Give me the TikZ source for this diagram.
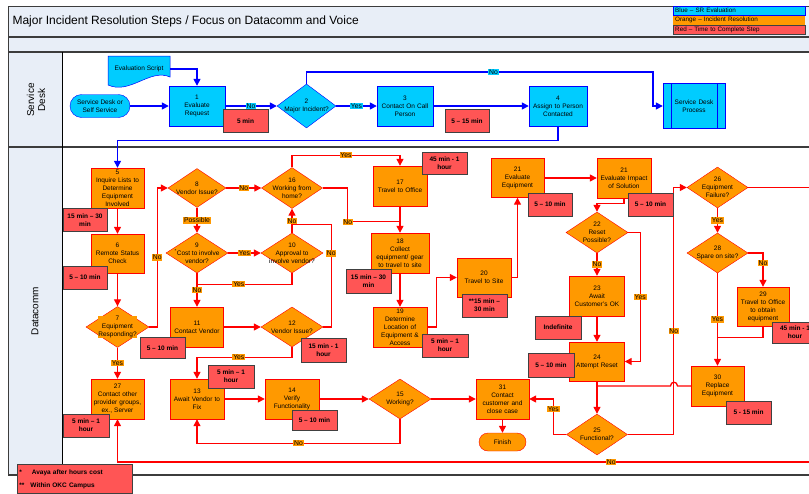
\documentclass[tikz,border=0pt]{standalone}
\usepackage{fontspec}
\setmainfont{Liberation Sans}
\usetikzlibrary{shapes.geometric,arrows.meta,positioning}

\definecolor{srblue}{RGB}{0,204,255}
\definecolor{srline}{RGB}{0,0,255}
\definecolor{irorange}{RGB}{255,153,0}
\definecolor{irline}{RGB}{255,0,0}
\definecolor{timered}{RGB}{255,85,85}
\definecolor{laneband}{RGB}{232,238,247}
\definecolor{frameline}{RGB}{60,60,60}

\tikzset{
  txt/.style={font=\fontsize{6.5}{8}\selectfont, align=center},
  srbox/.style={txt, draw=srline, fill=srblue, minimum width=56pt, minimum height=40pt, text width=52pt, inner sep=1pt},
  irbox/.style={txt, draw=irline, fill=irorange, minimum width=53pt, minimum height=40pt, text width=50pt, inner sep=1pt},
  srdecision/.style={diamond, draw=srline, fill=srblue, minimum width=59pt, minimum height=44pt, inner sep=0pt},
  irdecision/.style={diamond, draw=irline, fill=irorange, minimum width=62pt, minimum height=41pt, inner sep=0pt},
  timebox/.style={draw=black!75, line width=0.8pt, fill=timered, font=\bfseries\fontsize{6.5}{8}\selectfont, align=center, minimum width=45pt, minimum height=23pt, inner sep=0.5pt},
  srflow/.style={draw=srline, line width=1.4pt, -{Triangle[length=7pt,width=7pt]}},
  irflow/.style={draw=irline, line width=1.3pt, -{Triangle[length=7pt,width=7pt]}},
  irjoin/.style={draw=irline, line width=1.3pt},
  srtag/.style={fill=srblue, inner sep=0.8pt, font=\fontsize{6.8}{7}\selectfont},
  irtag/.style={fill=irorange, inner sep=0.8pt, font=\fontsize{6.8}{7}\selectfont},
  legrow/.style={font=\fontsize{6.3}{7}\selectfont, align=left, text width=128pt, minimum height=9pt, inner xsep=2pt, inner ysep=0.5pt}
}

\begin{document}
\begin{tikzpicture}[x=1pt,y=-1pt]
\useasboundingbox (0,0) rectangle (809,493);
% swimlanes
\fill[laneband] (8,6) rectangle (812,52);
\fill[laneband] (8,52) rectangle (62,475);
\draw[frameline, line width=0.6pt] (8,6) -- (812,6);
\draw[frameline, line width=1.2pt] (8,37) -- (812,37) (8,52) -- (812,52) (8,147) -- (812,147);
\draw[frameline, line width=1.8pt] (8,475) -- (812,475);
\draw[frameline, line width=1pt] (8,6) -- (8,475);
\draw[line width=0.6pt] (62,52) -- (62,475);
\node[anchor=west, font=\fontsize{12}{14}\selectfont] (title) at (9,21) {Major Incident Resolution Steps / Focus on Datacomm and Voice};
\node[rotate=90, align=center, font=\fontsize{10}{11}\selectfont] (lanesd) at (36,100) {Service\\Desk};
\node[rotate=90, font=\fontsize{10}{11}\selectfont] (lanedc) at (35,311) {Datacomm};

% legend
\node[legrow, anchor=north west, draw=srline, fill=srblue] (legsr) at (673,6) {Blue – SR Evaluation};
\node[legrow, fill=irorange, below=0pt of legsr] (legir) {Orange – Incident Resolution};
\node[legrow, draw=black!75, fill=timered, below=0.5pt of legir] (legtime) {Red – Time to Complete Step};

% service desk
\filldraw[draw=srline, fill=srblue, line width=0.5pt] (108,56) -- (170,56) -- (170,77) .. controls (150,68) and (130,95) .. (108,85) -- cycle;
\node[txt, minimum width=62pt] (script) at (139,69) {Evaluation Script};
\node[txt, draw=srline, fill=srblue, rounded corners=11.5pt, minimum width=60pt, minimum height=23pt, inner sep=0.5pt] (start) at (100,106) {Service Desk or\\Self Service};
\node[srbox] (n1) at (197,106) {1\\Evaluate\\Request};
\node[srdecision, label={[txt]center:{2\\Major Incident?}}] (n2) at (306.5,106) {};
\node[srbox] (n3) at (405,106) {3\\Contact On Call\\Person};
\node[srbox, minimum width=58pt] (n4) at (558,106) {4\\Assign to Person\\Contacted};
\node[srbox, minimum width=62pt, minimum height=45pt] (sdp) at (694,106) {Service Desk\\Process};
\draw[draw=srline, line width=0.6pt] ([xshift=8pt]sdp.north west) -- ([xshift=8pt]sdp.south west) ([xshift=-8pt]sdp.north east) -- ([xshift=-8pt]sdp.south east);

% datacomm
\node[irbox] (n5) at (117.5,188) {5\\Inquire Lists to\\Determine\\Equipment\\Involved};
\node[irbox, minimum height=39pt] (n6) at (117.5,253.5) {6\\Remote Status\\Check};
\node[irdecision, minimum width=63pt, label={[txt, fill=irorange, inner sep=0.3pt]center:{7\\Equipment\\Responding?}}] (n7) at (117.5,327) {};
\node[irbox] (n27) at (117.5,399) {27\\Contact other\\provider groups,\\ex., Server};
\node[irdecision, minimum width=58pt, minimum height=39pt, label={[txt]center:{8\\Vendor Issue?}}] (n8) at (197,188) {};
\node[irdecision, minimum height=40pt, label={[txt]center:{9\\\textsuperscript{*}Cost to involve\\vendor?}}] (n9) at (197,253) {};
\node[irdecision, minimum height=40pt, label={[txt]center:{10\\Approval to\\involve vendor?}}] (n10) at (292,253) {};
\node[irbox] (n11) at (197,327) {11\\Contact Vendor};
\node[irdecision, minimum height=40pt, label={[txt]center:{12\\Vendor Issue?}}] (n12) at (292,327) {};
\node[irbox, minimum width=54pt] (n13) at (197,399) {13\\Await Vendor to\\Fix};
\node[irbox, minimum width=54pt] (n14) at (292,399) {14\\Verify\\Functionality};
\node[irdecision, minimum height=40pt, label={[txt]center:{15\\Working?}}] (n15) at (400,399) {};
\node[irdecision, minimum width=61pt, label={[txt]center:{16\\Working from\\home?}}] (n16) at (292,188) {};
\node[irbox, minimum width=54pt] (n17) at (400,186) {17\\Travel to Office};
\node[irbox, minimum width=58pt] (n18) at (400,253) {18\\Collect\\equipment/ gear\\to travel to site};
\node[irbox, minimum width=54pt] (n19) at (400,327) {19\\Determine\\Location of\\Equipment \&\\Access};
\node[irbox, minimum width=54pt, minimum height=39pt] (n20) at (484,277.5) {20\\Travel to Site};
\node[irbox, minimum height=39pt] (n21a) at (517.5,178) {21\\Evaluate\\Equipment};
\node[irbox, minimum width=54pt] (n21b) at (624,178) {21\\Evaluate Impact\\of Solution};
\node[irdecision, label={[txt]center:{22\\Reset\\Possible?}}] (n22) at (597,232.5) {};
\node[irbox, minimum width=55pt] (n23) at (597,296) {23\\Await\\Customer's OK};
\node[irbox, minimum width=55pt, minimum height=39pt] (n24) at (597,361.5) {24\\Attempt Reset};
\node[irdecision, minimum width=61pt, label={[txt]center:{25\\Functional?}}] (n25) at (597,434.5) {};
\node[irbox] (n31) at (502.5,399) {31\\Contact\\customer and\\close case};
\node[txt, draw=irline, fill=irorange, rounded corners=9pt, minimum width=47pt, minimum height=18pt, inner sep=0.5pt] (finish) at (502.5,442) {Finish};
\node[irdecision, minimum width=61pt, label={[txt]center:{26\\Equipment\\Failure?}}] (n26) at (717.5,187.5) {};
\node[irdecision, minimum width=61pt, minimum height=40pt, label={[txt]center:{28\\Spare on site?}}] (n28) at (717.5,253) {};
\node[irbox, minimum width=52pt, minimum height=39pt] (n29) at (763,306.5) {29\\Travel to Office\\to obtain\\equipment};
\node[irbox] (n30) at (717.5,386) {30\\Replace\\Equipment};

% service desk connectors
\draw[srflow] (start) -- (n1);
\draw[srflow] (n1) -- node[srtag]{No} (n2);
\draw[srflow] (n2) -- node[srtag]{Yes} (n3);
\draw[srflow] (n3) -- (n4);
\draw[srflow] (script.east) -| (n1.north);
\draw[srflow] (n2.north) -- ++(0,-12) -| node[srtag, pos=0.27]{No} ([xshift=-10pt]sdp.west) -- (sdp.west);
\draw[srflow] (n4.south) -- ++(0,14) -| (n5.north);

% datacomm connectors
\draw[irflow] (n5) -- (n6);
\draw[irflow] (n6) -- (n7);
\draw[irflow] (n7) -- node[irtag]{Yes} (n27);
\draw[irflow] (n7.east) -- ++(8,0) |- node[irtag, pos=0.25]{No} (n8.west);
\draw[irflow] (n8) -- node[irtag]{Possible} (n9);
\draw[irflow] (n8) -- node[irtag]{No} (n16);
\draw[irflow] (n9) -- node[irtag]{Yes} (n10);
\draw[irflow] (n9) -- node[irtag]{No} (n11);
\draw[irjoin] (n10.south) -- ++(0,11) -| node[irtag, pos=0.28]{Yes} (n9.south);
\draw[irflow] (n10) -- node[irtag]{No} (n16);
\draw[irflow] (n11) -- (n12);
\draw[irjoin] (n12.east) -- ++(8,0) |- node[irtag, pos=0.36]{No} ([yshift=8pt]n10.north);
\draw[irflow] (n12.south) -- ++(0,10) -| node[irtag, pos=0.28]{Yes} (n13.north);
\draw[irflow] (n13) -- (n14);
\draw[irflow] (n14) -- (n15);
\draw[irflow] (n15) -- (n31);
\draw[irflow] (n15.south) -- ++(0,24) -| node[irtag, pos=0.25]{No} (n13.south);
\draw[irflow] (n16.north) -- ++(0,-12) -| node[irtag, pos=0.25]{Yes} (n17.north);
\draw[irjoin] (n16.east) -- ++(25,0) |- node[irtag, pos=0.5]{No} ([yshift=11pt]n18.north);
\draw[irflow] (n17) -- (n18);
\draw[irflow] (n18) -- (n19);
\draw[irflow] (n19.east) -- ++(9,0) |- (n20.west);
\draw[irflow] (n20.east) -| (n21a.south);
\draw[irflow] (n21a) -- (n21b);
\draw[irflow] (n21b.south) -- ++(0,5) -| (n22.north);
\draw[irflow] (n22) -- node[irtag]{No} (n23);
\draw[irflow] (n22.east) -- ++(12,0) |- node[irtag, pos=0.25]{Yes} (n24.east);
\draw[irflow] (n23) -- (n24);
\draw[irflow] (n24) -- (n25);
\draw[irjoin] (n30.west) -- (677.5,386) .. controls (677.5,381) and (670.5,381) .. (670.5,386) -- (n24.south |- n30.west);
\draw[irflow] (n25.east) -- ++(46,0) |- node[irtag, pos=0.21]{No} (n26.west);
\draw[irflow] (n25.west) -- ++(-13,0) |- node[irtag, pos=0.36]{Yes} (n31.east);
\draw[irflow] (n31) -- (finish);
\draw[irflow] (n26) -- node[irtag]{Yes} (n28);
\coordinate (exit26) at (815,187.5);
\draw[irjoin] (n26.east) -- (exit26);
\draw[irflow] (n28.east) -| node[irtag, pos=0.65]{No} (n29.north);
\draw[irflow] (n28) -- node[irtag]{Yes} (n30);
\draw[irjoin] (n29.south) |- ([yshift=28pt]n30.north);
\coordinate (return27) at (815,462);
\draw[irflow] (return27) -| node[irtag, pos=0.146]{No} (n27.south);

% time to complete
\node[timebox] (t1) at (245.5,121) {5 min};
\node[timebox, minimum width=44pt] (t3) at (467,121) {5 – 15 min};
\node[timebox, minimum width=44pt] (t5) at (85,220) {15 min – 30\\min};
\node[timebox, minimum width=44pt] (t6) at (85,277.5) {5 – 10 min};
\node[timebox, minimum width=46pt] (t27) at (86,425.5) {5 min – 1\\hour};
\node[timebox, minimum height=21pt] (t11) at (162.5,348) {5 – 10 min};
\node[timebox, minimum height=24pt] (t12) at (323.5,350) {15 min - 1\\hour};
\node[timebox, minimum width=46pt] (t13) at (231,376.5) {5 min – 1\\hour};
\node[timebox, minimum height=20pt] (t14) at (314.5,420.5) {5 – 10 min};
\node[timebox, minimum height=22pt] (t17) at (444.5,163) {45 min - 1\\hour};
\node[timebox, minimum height=24pt] (t18) at (368.5,281) {15 min – 30\\min};
\node[timebox, minimum width=46pt] (t19) at (445,345.5) {5 min – 1\\hour};
\node[timebox] (t20) at (484.5,305.5) {**15 min –\\30 min};
\node[timebox, minimum width=44pt] (t21a) at (550,204.5) {5 – 10 min};
\node[timebox] (t21b) at (650.5,204.5) {5 – 10 min};
\node[timebox, minimum width=46pt] (t23) at (558,327.5) {Indefinite};
\node[timebox, minimum width=46pt, minimum height=24pt] (t24) at (551,365) {5 – 10 min};
\node[timebox, minimum width=46pt, minimum height=21pt] (t29) at (795,332.5) {45 min - 1\\hour};
\node[timebox] (t30) at (748.5,412.5) {5 - 15 min};

% footnotes
\node[timebox, anchor=north west, minimum width=115pt, minimum height=29pt, text width=111pt, align=left, inner sep=2pt] (notes) at (17,464) {*\hspace{10pt}Avaya after hours cost\\[5pt]**\hspace{6pt}Within OKC Campus};
\end{tikzpicture}
\end{document}
